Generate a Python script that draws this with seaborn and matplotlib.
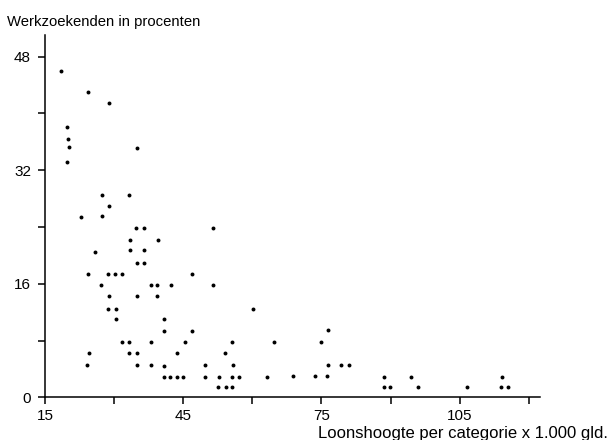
import numpy as np
import pandas as pd
import seaborn as sns
import matplotlib.pyplot as plt

# Loonshoogte (x 1.000 gld.) and werkzoekenden (%) per beroepscategorie
loon = [18.4, 24.4, 29.0, 19.8, 20.0, 20.3, 34.9, 19.7, 27.3, 33.3,
        28.9, 22.8, 27.3, 34.7, 36.4, 51.4, 33.4, 39.5, 25.9, 33.4,
        36.5, 34.9, 36.5, 24.3, 28.75, 30.3, 31.8, 46.8, 27.2, 38.0,
        39.4, 42.4, 51.4, 28.9, 35.0, 39.4, 28.75, 30.4, 60.1, 30.5,
        40.8, 40.9, 46.8, 76.4, 31.7, 33.2, 38.0, 45.4, 55.6, 64.7,
        74.9, 24.5, 33.3, 34.9, 43.7, 54.0, 24.1, 34.9, 38.0, 40.8,
        49.8, 55.8, 76.5, 79.3, 81.0, 40.9, 42.2, 43.6, 44.9, 49.8,
        52.7, 55.6, 57.1, 63.1, 68.9, 73.5, 76.3, 88.6, 94.4, 114.1,
        52.6, 54.2, 55.5, 88.6, 89.9, 96.0, 106.5, 114.0, 115.4]
werkzoekend = [46.0, 43.0, 41.4, 38.1, 36.4, 35.2, 35.1, 33.2, 28.5, 28.5,
               27.0, 25.4, 25.6, 23.8, 23.8, 23.8, 22.2, 22.1, 20.5, 20.7,
               20.7, 18.9, 18.9, 17.3, 17.3, 17.3, 17.3, 17.3, 15.8, 15.8,
               15.8, 15.8, 15.8, 14.2, 14.2, 14.2, 12.5, 12.5, 12.5, 11.0,
               11.0, 9.4, 9.4, 9.5, 7.8, 7.8, 7.8, 7.75, 7.75, 7.75,
               7.75, 6.2, 6.2, 6.2, 6.2, 6.2, 4.5, 4.5, 4.5, 4.45,
               4.5, 4.5, 4.5, 4.5, 4.5, 2.8, 2.8, 2.8, 2.8, 2.9,
               2.9, 2.9, 2.9, 2.9, 3.0, 3.0, 3.0, 2.9, 2.9, 2.9,
               1.4, 1.4, 1.4, 1.4, 1.4, 1.4, 1.4, 1.4, 1.4]

x_ticks = [15, 30, 45, 60, 75, 90, 105, 120]
x_labels = ["15", "", "45", "", "75", "", "105", ""]
y_ticks = [0, 8, 16, 24, 32, 40, 48]
y_labels = ["0", "", "16", "", "32", "", "48"]

df = pd.DataFrame({"loon": loon, "werkzoekend": werkzoekend})

sns.set_style("ticks")
plt.rcParams['font.family'] = ['Liberation Sans', 'DejaVu Sans']

fig = plt.figure(figsize=(6.13, 4.40), dpi=100)
ax = fig.add_axes([0.0734, 0.097, 0.808, 0.823])

sns.scatterplot(data=df, x="loon", y="werkzoekend", ax=ax,
                s=8, color="black", linewidth=0, marker="o")

ax.set_xlim(15, 122.5)
ax.set_ylim(0, 51)
ax.set_xticks(x_ticks)
ax.set_xticklabels(x_labels)
ax.set_yticks(y_ticks)
ax.set_yticklabels(y_labels)
ax.tick_params(axis="both", direction="out", length=5, width=1.1,
               color="black", labelsize=11, labelcolor="black")
ax.tick_params(axis="x", pad=3.5)
ax.tick_params(axis="y", pad=5)
for side in ["top", "right"]:
    ax.spines[side].set_visible(False)
for side in ["left", "bottom"]:
    ax.spines[side].set_linewidth(1.1)
    ax.spines[side].set_color("black")
ax.set_xlabel("")
ax.set_ylabel("")

fig.text(7 / 613, 1 - 26 / 440, "Werkzoekenden in procenten",
         ha="left", va="baseline", fontsize=10.7, color="black")
fig.text(608 / 613, 1 - 437.5 / 440, "Loonshoogte per categorie x 1.000 gld.",
         ha="right", va="baseline", fontsize=12, color="black")

fig.savefig("out.png", dpi=100)
